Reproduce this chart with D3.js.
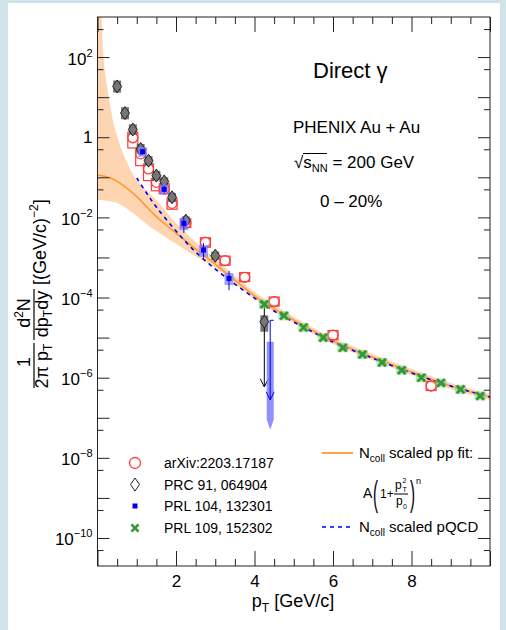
<!DOCTYPE html>
<html>
<head>
<meta charset="utf-8">
<script src="https://cdn.jsdelivr.net/npm/d3@7"></script>
<style>
  body { margin: 0; background: #cfe3e9; }
  svg text { font-family: "Liberation Sans", Arial, sans-serif; fill: #000; }
</style>
</head>
<body>
<div id="chart"></div>
<script>
// ---- axis ticks ----
const xMajor = [0, 2, 4, 6, 8, 10];
const xMinor = [0.5, 1, 1.5, 2.5, 3, 3.5, 4.5, 5, 5.5, 6.5, 7, 7.5, 8.5, 9, 9.5];
const xLabels = [2, 4, 6, 8];
const yDecades = [1e-10, 1e-9, 1e-8, 1e-7, 1e-6, 1e-5, 1e-4, 1e-3, 1e-2, 1e-1, 1, 10, 100];
const yMinor = [5e-11, 5e-10, 5e-9, 5e-8, 5e-7, 5e-6, 5e-5, 5e-4, 5e-3, 5e-2, 0.5, 5, 50, 500];
const yLabelExp = [2, 0, -2, -4, -6, -8, -10];

// ---- arXiv:2203.17187 (red open circles + sys boxes) ----
const arxivPt    = [0.9, 1.1, 1.3, 1.5, 1.7, 1.9, 2.25, 2.75, 3.25, 3.75, 4.5, 6.0, 8.5];
const arxivVal   = [0.97, 0.385, 0.162, 0.075, 0.051, 0.0224, 0.0072, 0.0024, 8.3e-4, 3.2e-4, 7.9e-5, 1.15e-5, 6.2e-7];
const arxivSysHi = [1.34, 0.51, 0.215, 0.092, 0.069, 0.029, 0.0092, 0.0031, 1.08e-3, 4.2e-4, 1.03e-4, 1.5e-5, 8.1e-7];
const arxivSysLo = [0.54, 0.196, 0.083, 0.046, 0.039, 0.016, 0.0056, 0.0018, 6.4e-4, 2.5e-4, 6.1e-5, 8.9e-6, 4.8e-7];

// ---- PRC 91, 064904 (gray diamonds + sys boxes) ----
const prcPt    = [0.5, 0.7, 0.9, 1.1, 1.3, 1.5, 1.7, 1.9, 2.25, 3.0];
const prcVal   = [18.5, 4.0, 1.56, 0.51, 0.26, 0.11, 0.079, 0.0316, 0.0083, 0.0011];
const prcSysHi = [26, 5.6, 2.1, 0.68, 0.34, 0.145, 0.1, 0.041, 0.0106, 0.0014];
const prcSysLo = [13, 2.8, 1.15, 0.38, 0.2, 0.083, 0.061, 0.024, 0.0065, 0.00086];
// upper-limit style point
const prcLimPt = [4.25];
const prcLimVal = [2.5e-5];
const prcLimErrHi = [6.5e-5];
const prcLimArrow = [5.9e-7];
const prcLimSysHi = [3.6e-5];
const prcLimSysLo = [1.4e-5];

// ---- PRL 104, 132301 (blue squares) ----
const blPt    = [1.15, 1.7, 2.2, 2.7, 3.35];
const blVal   = [0.435, 0.05, 0.0071, 0.00153, 3.0e-4];
const blErrHi = [0.5, 0.06, 0.0096, 0.00227, 4.6e-4];
const blErrLo = [0.37, 0.041, 0.0041, 0.00098, 1.53e-4];
const blSysHi = [0.56, 0.066, 0.0096, 0.00204, 4.07e-4];
const blSysLo = [0.326, 0.0375, 0.0048, 0.00104, 2.04e-4];
const blLimPt = [4.4];
const blLimErrHi = [2.7e-5];
const blLimArrow = [2.8e-7];
const blLimSysHi = [7.9e-6];
const blLimSysLo = [9e-8];
const blLimTip = [5e-8];

// ---- PRL 109, 152302 (green crosses) ----
const grPt  = [4.25, 4.75, 5.25, 5.75, 6.25, 6.75, 7.25, 7.75, 8.25, 8.75, 9.25, 9.75];
const grVal = [6.8e-5, 3.5e-5, 1.78e-5, 1.0e-5, 5.6e-6, 3.8e-6, 2.4e-6, 1.53e-6, 1.0e-6, 7.4e-7, 5.1e-7, 3.5e-7];

// ---- Ncoll scaled pp fit (orange) and its band ----
const fitPt  = [0, 0.35, 0.7, 1.0, 1.5, 2.0, 2.5, 3.0, 3.5, 4.0, 4.5, 5.0, 6.0, 7.0, 8.0, 9.0, 10.0];
const fitVal = [0.114, 0.0944, 0.0582, 0.0328, 0.0104, 0.00407, 0.00162, 6.85e-4, 2.73e-4, 1.1e-4, 5.2e-5, 2.74e-5, 8.2e-6, 3.3e-6, 1.38e-6, 6.2e-7, 3.3e-7];
const bandHiPt  = [0, 0.1, 0.15, 0.2, 0.3, 0.45, 0.7, 1.0, 1.5, 2.0, 2.5, 3.0, 4, 5, 6, 7, 8, 9, 10];
const bandHiVal = [1.5e4, 1120, 111, 35.6, 8.5, 1.51, 0.303, 0.0855, 0.0271, 0.00723, 0.00243, 9.1e-4, 1.37e-4, 3.27e-5, 9.8e-6, 3.9e-6, 1.65e-6, 7.4e-7, 3.9e-7];
const bandLoPt  = [0, 0.5, 0.9, 1.35, 1.93, 2.36, 3.0, 4, 5, 6, 7, 8, 9, 10];
const bandLoVal = [0.0271, 0.0228, 0.01285, 0.00575, 0.00243, 0.00129, 5.45e-4, 9.2e-5, 2.31e-5, 6.9e-6, 2.76e-6, 1.17e-6, 5.2e-7, 2.77e-7];

// ---- Ncoll scaled pQCD (blue dashed) ----
const qcdPt  = [1.0, 1.25, 1.5, 2.0, 2.5, 3.0, 3.5, 4.0, 4.5, 5.0, 6.0, 7.0, 8.0, 9.0, 10.0];
const qcdVal = [0.096, 0.0405, 0.0181, 0.00457, 0.00137, 5.15e-4, 2.17e-4, 9.7e-5, 4.6e-5, 2.45e-5, 7.8e-6, 3.1e-6, 1.31e-6, 6.2e-7, 3.3e-7];

const W = 506, H = 630;
const orange = "#ff9933", band = "#fdd5b1", red = "#ff3b3b";
const blue = "#0000ee", green = "#339933";

const svg = d3.select("#chart").append("svg").attr("width", W).attr("height", H);
svg.append("rect").attr("width", W).attr("height", H).attr("fill", "#cfe3e9");
svg.append("rect").attr("x", 8).attr("y", 3).attr("width", 492).attr("height", 627).attr("fill", "#fff");

const x = d3.scaleLinear().domain([0, 10]).range([97.5, 490]);
const y = d3.scaleLog().domain([2e-11, 1e3]).range([566, 17]);
const [x0, x1] = x.range();
const [y0, y1] = y.range();

svg.append("clipPath").attr("id", "frame")
  .append("rect").attr("x", x0).attr("y", y1).attr("width", x1 - x0).attr("height", y0 - y1);
const plot = svg.append("g").attr("clip-path", "url(#frame)");

// orange band
const lineXY = d3.line().x(d => x(d[0])).y(d => y(d[1])).curve(d3.curveCatmullRom);
const hi = bandHiPt.map((p, i) => [p, bandHiVal[i]]);
const lo = bandLoPt.map((p, i) => [p, bandLoVal[i]]).reverse();
plot.append("path")
  .attr("d", lineXY(hi) + "L" + lineXY(lo).slice(1) + "Z")
  .attr("fill", band);
plot.append("path")
  .attr("d", lineXY(fitPt.map((p, i) => [p, fitVal[i]])))
  .attr("fill", "none").attr("stroke", orange).attr("stroke-width", 1.6);
plot.append("path")
  .attr("d", lineXY(qcdPt.map((p, i) => [p, qcdVal[i]])))
  .attr("fill", "none").attr("stroke", blue).attr("stroke-width", 1.6)
  .attr("stroke-dasharray", "4,4");

// red: arXiv
const gRed = plot.append("g");
arxivPt.forEach((p, i) => {
  gRed.append("rect")
    .attr("x", x(p) - 5).attr("y", y(arxivSysHi[i]))
    .attr("width", 10).attr("height", y(arxivSysLo[i]) - y(arxivSysHi[i]))
    .attr("fill", "none").attr("stroke", red).attr("stroke-width", 1.2);
  gRed.append("circle").attr("cx", x(p)).attr("cy", y(arxivVal[i])).attr("r", 5)
    .attr("fill", "none").attr("stroke", red).attr("stroke-width", 1.3);
});

// gray: PRC 91
const diamond = (cx, cy) => `M${cx},${cy - 6.5}L${cx + 4.5},${cy}L${cx},${cy + 6.5}L${cx - 4.5},${cy}Z`;
const gGray = plot.append("g");
prcPt.forEach((p, i) => {
  gGray.append("rect")
    .attr("x", x(p) - 4).attr("y", y(prcSysHi[i]))
    .attr("width", 8).attr("height", y(prcSysLo[i]) - y(prcSysHi[i]))
    .attr("fill", "#555").attr("opacity", 0.8);
});
prcLimPt.forEach((p, i) => {
  const cx = x(p);
  gGray.append("rect")
    .attr("x", cx - 4).attr("y", y(prcLimSysHi[i]))
    .attr("width", 8).attr("height", y(prcLimSysLo[i]) - y(prcLimSysHi[i]))
    .attr("fill", "#555").attr("opacity", 0.8);
  const ya = y(prcLimArrow[i]);
  gGray.append("line").attr("x1", cx).attr("x2", cx)
    .attr("y1", y(prcLimErrHi[i])).attr("y2", ya).attr("stroke", "#000");
  gGray.append("path").attr("d", `M${cx - 4},${ya - 8}L${cx},${ya}L${cx + 4},${ya - 8}`)
    .attr("fill", "none").attr("stroke", "#000");
  gGray.append("path").attr("d", diamond(cx, y(prcLimVal[i])))
    .attr("fill", "#777").attr("stroke", "#222");
});
prcPt.forEach((p, i) => {
  gGray.append("path").attr("d", diamond(x(p), y(prcVal[i])))
    .attr("fill", "#777").attr("stroke", "#222");
});

// blue: PRL 104
const gBlue = plot.append("g");
blPt.forEach((p, i) => {
  const cx = x(p);
  gBlue.append("rect")
    .attr("x", cx - 4.5).attr("y", y(blSysHi[i]))
    .attr("width", 9).attr("height", y(blSysLo[i]) - y(blSysHi[i]))
    .attr("fill", "#7d7dff").attr("opacity", 0.7);
  gBlue.append("line").attr("x1", cx).attr("x2", cx)
    .attr("y1", y(blErrHi[i])).attr("y2", y(blErrLo[i])).attr("stroke", blue);
  gBlue.append("rect").attr("x", cx - 2.5).attr("y", y(blVal[i]) - 2.5)
    .attr("width", 5).attr("height", 5).attr("fill", blue);
});
blLimPt.forEach((p, i) => {
  const cx = x(p);
  const yt = y(blLimSysHi[i]), yb = y(blLimSysLo[i]), ytip = y(blLimTip[i]);
  gBlue.append("path")
    .attr("d", `M${cx - 3.5},${yt}L${cx + 3.5},${yt}L${cx + 3.5},${yb}L${cx},${ytip}L${cx - 3.5},${yb}Z`)
    .attr("fill", "#7d7dff").attr("opacity", 0.85);
  const ya = y(blLimArrow[i]), yh = y(blLimErrHi[i]);
  gBlue.append("line").attr("x1", cx).attr("x2", cx).attr("y1", yh).attr("y2", ya).attr("stroke", blue);
  gBlue.append("line").attr("x1", cx).attr("x2", cx + 3.5).attr("y1", yh).attr("y2", yh).attr("stroke", blue);
  gBlue.append("path").attr("d", `M${cx - 4},${ya - 8}L${cx},${ya}L${cx + 4},${ya - 8}`)
    .attr("fill", "none").attr("stroke", blue);
});

// green: PRL 109
const cross = (cx, cy, s) => `M${cx - s},${cy - s}L${cx + s},${cy + s}M${cx - s},${cy + s}L${cx + s},${cy - s}`;
const gGreen = plot.append("g");
grPt.forEach((p, i) => {
  gGreen.append("rect").attr("x", x(p) - 5.5).attr("y", y(grVal[i]) - 4.5)
    .attr("width", 11).attr("height", 9).attr("fill", "#8fcf8f").attr("opacity", 0.6);
});
grPt.forEach((p, i) => {
  gGreen.append("path").attr("d", cross(x(p), y(grVal[i]), 3.8))
    .attr("stroke", green).attr("stroke-width", 2.8);
});

// ---- axes ----
const tidy = g => { g.select(".domain").remove(); g.selectAll("line").attr("stroke", "#222"); };
const axisFont = g => g.attr("font-size", 17).attr("font-family", "Liberation Sans, Arial, sans-serif");

svg.append("g").attr("transform", `translate(0,${y0})`)
  .call(d3.axisBottom(x).tickValues(xMinor).tickSize(-7).tickFormat("")).call(tidy);
svg.append("g").attr("transform", `translate(0,${y0})`)
  .call(d3.axisBottom(x).tickValues(xMajor).tickSize(-15).tickPadding(9)
    .tickFormat(d => xLabels.includes(d) ? d : ""))
  .call(tidy).call(axisFont)
  .selectAll("text").attr("fill", "#000");
svg.append("g").attr("transform", `translate(0,${y1})`)
  .call(d3.axisTop(x).tickValues(xMinor).tickSize(-7).tickFormat("")).call(tidy);
svg.append("g").attr("transform", `translate(0,${y1})`)
  .call(d3.axisTop(x).tickValues(xMajor).tickSize(-15).tickFormat("")).call(tidy);

svg.append("g").attr("transform", `translate(${x0},0)`)
  .call(d3.axisLeft(y).tickValues(yMinor).tickSize(-6).tickFormat("")).call(tidy);
svg.append("g").attr("transform", `translate(${x0},0)`)
  .call(d3.axisLeft(y).tickValues(yDecades).tickSize(-12).tickFormat("")).call(tidy);
svg.append("g").attr("transform", `translate(${x1},0)`)
  .call(d3.axisRight(y).tickValues(yMinor).tickSize(-6).tickFormat("")).call(tidy);
svg.append("g").attr("transform", `translate(${x1},0)`)
  .call(d3.axisRight(y).tickValues(yDecades).tickSize(-12).tickFormat("")).call(tidy);

svg.append("rect").attr("x", x0).attr("y", y1).attr("width", x1 - x0).attr("height", y0 - y1)
  .attr("fill", "none").attr("stroke", "#222");

// y tick labels
yLabelExp.forEach(e => {
  const ty = y(Math.pow(10, e));
  const t = svg.append("text").attr("x", x0 - 5).attr("text-anchor", "end").attr("font-size", 17);
  if (e === 0) {
    t.attr("y", ty + 6).text("1");
  } else {
    t.attr("y", ty + 7.5);
    t.append("tspan").text("10");
    t.append("tspan").attr("font-size", 11).attr("dy", -8).text(e < 0 ? "\u2212" + (-e) : e);
  }
});

// x title
const xt = svg.append("text").attr("x", 293).attr("y", 607).attr("text-anchor", "middle").attr("font-size", 18);
xt.append("tspan").text("p");
xt.append("tspan").attr("font-size", 12).attr("dy", 5).text("T");
xt.append("tspan").attr("dy", -5).text(" [GeV/c]");

// y title (rotated)
const yt = svg.append("g").attr("transform", "rotate(-90)").attr("font-size", 18);
yt.append("text").attr("x", -362).attr("y", 30).attr("text-anchor", "middle").text("1");
const d1 = yt.append("text").attr("x", -366).attr("y", 48).attr("text-anchor", "middle");
d1.append("tspan").text("2\u03c0 p");
d1.append("tspan").attr("font-size", 12).attr("dy", 4).text("T");
const n2 = yt.append("text").attr("x", -313).attr("y", 30).attr("text-anchor", "middle");
n2.append("tspan").text("d");
n2.append("tspan").attr("font-size", 12).attr("dy", -7).text("2");
n2.append("tspan").attr("dy", 7).text("N");
const d2 = yt.append("text").attr("x", -314).attr("y", 48).attr("text-anchor", "middle");
d2.append("tspan").text("dp");
d2.append("tspan").attr("font-size", 12).attr("dy", 4).text("T");
d2.append("tspan").attr("dy", -4).text("dy");
yt.append("line").attr("x1", -388).attr("x2", -343).attr("y1", 34).attr("y2", 34).attr("stroke", "#000").attr("stroke-width", 1.2);
yt.append("line").attr("x1", -340).attr("x2", -289).attr("y1", 34).attr("y2", 34).attr("stroke", "#000").attr("stroke-width", 1.2);
const un = yt.append("text").attr("x", -285).attr("y", 46);
un.append("tspan").text("[(GeV/c)");
un.append("tspan").attr("font-size", 12).attr("dy", -8).text("\u22122");
un.append("tspan").attr("dy", 8).text("]");

// header labels
svg.append("text").attr("x", 313).attr("y", 78).attr("font-size", 22).text("Direct \u03b3");
svg.append("text").attr("x", 293).attr("y", 133).attr("font-size", 17).text("PHENIX Au + Au");
const sq = svg.append("text").attr("x", 294).attr("y", 168).attr("font-size", 17);
sq.append("tspan").text("\u221a");
sq.append("tspan").text("s");
sq.append("tspan").attr("font-size", 11).attr("dy", 4).text("NN");
sq.append("tspan").attr("dy", -4).text(" = 200 GeV");
svg.append("line").attr("x1", 303).attr("x2", 327).attr("y1", 153.5).attr("y2", 153.5)
  .attr("stroke", "#000").attr("stroke-width", 1);
svg.append("text").attr("x", 320).attr("y", 207).attr("font-size", 17).text("0 \u2013 20%");

// ---- legends ----
const legL = svg.append("g").attr("font-size", 14);
const rows = [463, 484.5, 506, 528];
const legNames = ["arXiv:2203.17187", "PRC 91, 064904", "PRL 104, 132301", "PRL 109, 152302"];
legL.append("circle").attr("cx", 135).attr("cy", rows[0]).attr("r", 5.5)
  .attr("fill", "none").attr("stroke", red).attr("stroke-width", 1.3);
legL.append("path").attr("d", diamond(135, rows[1])).attr("fill", "#fff").attr("stroke", "#222");
legL.append("rect").attr("x", 132.5).attr("y", rows[2] - 2.5).attr("width", 5).attr("height", 5).attr("fill", blue);
legL.append("path").attr("d", cross(135, rows[3], 3.6)).attr("stroke", green).attr("stroke-width", 2.6);
legNames.forEach((n, i) => legL.append("text").attr("x", 164).attr("y", rows[i] + 5).text(n));

const legR = svg.append("g").attr("font-size", 15);
legR.append("line").attr("x1", 322).attr("x2", 353).attr("y1", 453).attr("y2", 453)
  .attr("stroke", orange).attr("stroke-width", 1.8);
const t1 = legR.append("text").attr("x", 359).attr("y", 458);
t1.append("tspan").text("N");
t1.append("tspan").attr("font-size", 10).attr("dy", 4).text("coll");
t1.append("tspan").attr("dy", -4).text(" scaled pp fit:");
legR.append("line").attr("x1", 322).attr("x2", 353).attr("y1", 527).attr("y2", 527)
  .attr("stroke", blue).attr("stroke-width", 1.6).attr("stroke-dasharray", "4,4");
const t2 = legR.append("text").attr("x", 359).attr("y", 532);
t2.append("tspan").text("N");
t2.append("tspan").attr("font-size", 10).attr("dy", 4).text("coll");
t2.append("tspan").attr("dy", -4).text(" scaled pQCD");

// formula A(1 + pT^2/p0)^n
const f = svg.append("g").attr("font-size", 14);
f.append("text").attr("x", 363).attr("y", 498).text("A");
f.append("text").attr("transform", "translate(373,506) scale(1,2.3)").attr("font-size", 15).text("(");
f.append("text").attr("x", 380).attr("y", 498).attr("font-size", 12).text("1+");
f.append("text").attr("x", 395).attr("y", 489).attr("font-size", 12).text("p");
f.append("text").attr("x", 402.5).attr("y", 483).attr("font-size", 7).text("2");
f.append("text").attr("x", 402.5).attr("y", 492).attr("font-size", 7).text("T");
f.append("line").attr("x1", 394).attr("x2", 408).attr("y1", 494).attr("y2", 494).attr("stroke", "#000");
f.append("text").attr("x", 396).attr("y", 505).attr("font-size", 12).text("p");
f.append("text").attr("x", 403).attr("y", 509).attr("font-size", 7).text("0");
f.append("text").attr("transform", "translate(410,506) scale(1,2.3)").attr("font-size", 15).text(")");
f.append("text").attr("x", 416).attr("y", 484).attr("font-size", 9).text("n");
</script>
</body>
</html>
